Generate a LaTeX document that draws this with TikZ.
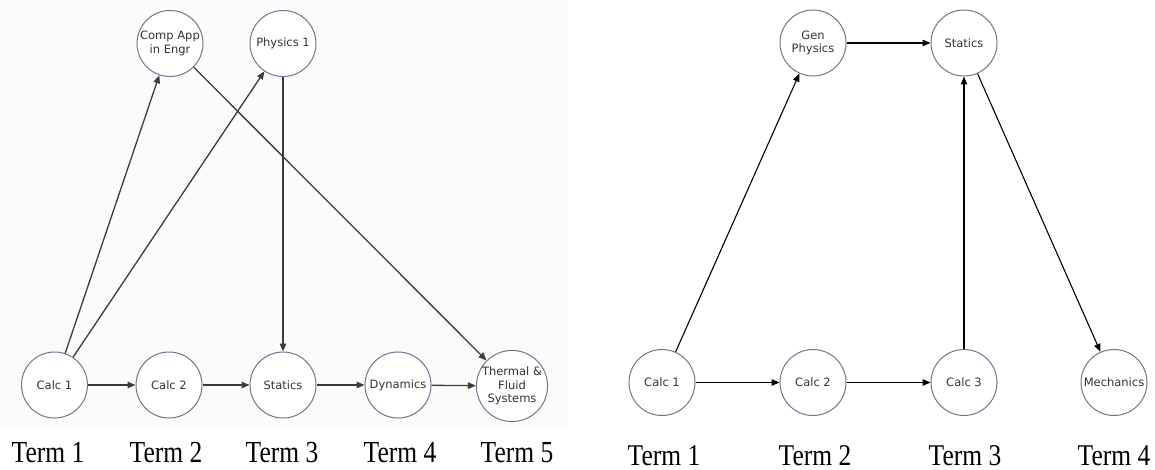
\documentclass[tikz,border=0pt]{standalone}
\usepackage{fontspec}
\usetikzlibrary{arrows.meta}
\newfontfamily\nodefont{DejaVu Sans}
\newfontfamily\termfont{Liberation Serif}
\definecolor{ringcol}{HTML}{6E7790}
\definecolor{labelcol}{HTML}{333333}
\definecolor{leftedge}{HTML}{3C3C3C}
\definecolor{panelbg}{HTML}{FBFBFB}
\begin{document}
\begin{tikzpicture}[x=1pt,y=-1pt,
  course/.style={circle, draw=ringcol, line width=1pt, fill=white,
    minimum size=66pt, inner sep=0pt, align=center, text=labelcol,
    font=\nodefont\fontsize{11.5}{13.5}\selectfont},
  term/.style={anchor=base, inner sep=0pt, font=\termfont\fontsize{25.5}{28}\selectfont},
  link/.style={line width=1.1pt, -{Triangle[length=8pt,width=6.5pt]}},
  linkL/.style={link, draw=leftedge, line width=1.3pt},
]
\useasboundingbox (0,0) rectangle (1155,470);
\fill[panelbg] (0,0) rectangle (568,429);

% ---- five-term sequence ----
\node[course] (c1)   at (54.5,385) {Calc 1};
\node[course] (c2)   at (169,385)  {Calc 2};
\node[course] (st)   at (283,385)  {Statics};
\node[course] (dyn)  at (398,385)  {Dynamics};
\node[course] (tfs)  at (512,386)  {Thermal \&\\Fluid\\Systems};
\node[course] (comp) at (170,43.5) {Comp App\\in Engr};
\node[course] (ph1)  at (283,43.5) {Physics 1};

\draw[linkL] (c1) -- (comp);
\draw[linkL] (c1) -- (ph1);
\draw[linkL] (ph1) -- (st);
\draw[linkL] (comp) -- (tfs);
\draw[linkL] (c1) -- (c2);
\draw[linkL] (c2) -- (st);
\draw[linkL] (st) -- (dyn);
\draw[linkL] (dyn) -- (tfs);

\node[term] (lt1) at (48,462)  {\scalebox{1}[1.2]{Term 1}};
\node[term] (lt2) at (166,462) {\scalebox{1}[1.2]{Term 2}};
\node[term] (lt3) at (282,462) {\scalebox{1}[1.2]{Term 3}};
\node[term] (lt4) at (400,462) {\scalebox{1}[1.2]{Term 4}};
\node[term] (lt5) at (517,462) {\scalebox{1}[1.2]{Term 5}};

% ---- four-term sequence ----
\node[course] (rc1)  at (662,382.5)  {Calc 1};
\node[course] (rc2)  at (813,382.5)  {Calc 2};
\node[course] (rc3)  at (964,382.5)  {Calc 3};
\node[course] (mech) at (1114,382.5) {Mechanics};
\node[course] (gph)  at (813,43)     {Gen\\Physics};
\node[course] (rst)  at (964,43)     {Statics};

\draw[link] (rc1) -- (gph);
\draw[link] (gph) -- (rst);
\draw[link] (rc3) -- (rst);
\draw[link] (rst) -- (mech);
\draw[link] (rc1) -- (rc2);
\draw[link] (rc2) -- (rc3);

\node[term] (rt1) at (664,465.5)  {\scalebox{1}[1.18]{Term 1}};
\node[term] (rt2) at (815,465.5)  {\scalebox{1}[1.18]{Term 2}};
\node[term] (rt3) at (965,465.5)  {\scalebox{1}[1.18]{Term 3}};
\node[term] (rt4) at (1114,465.5) {\scalebox{1}[1.18]{Term 4}};
\end{tikzpicture}
\end{document}
